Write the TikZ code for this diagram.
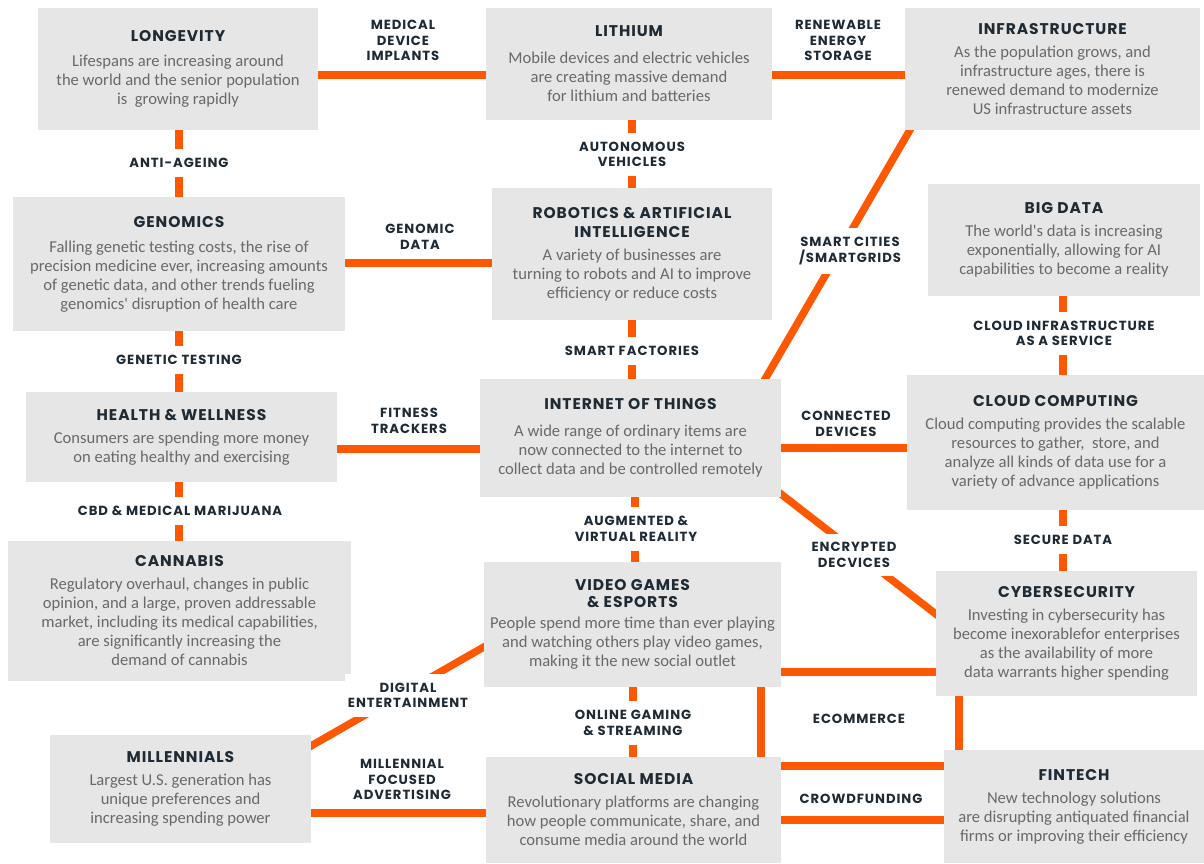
\documentclass[tikz,border=0pt]{standalone}
\usepackage{fontspec}
\newfontfamily\titlefam{Poppins}[LetterSpace=6]
\newfontfamily\lblfam{Poppins}[LetterSpace=7]
\newfontfamily\bodyfam{Carlito}
\usetikzlibrary{backgrounds}
\definecolor{orng}{RGB}{255,88,0}
\definecolor{boxgray}{RGB}{230,230,230}
\definecolor{ink}{RGB}{30,42,52}
\definecolor{bodygray}{RGB}{105,105,105}
\newcommand\ttl{\titlefam\bfseries\fontsize{15.5}{19}\selectfont\color{ink}}
\newcommand\lblfont{\lblfam\bfseries\fontsize{13.2}{15.5}\selectfont}
\newcommand\bdyfont{\bodyfam\fontsize{16.6}{19}\selectfont}
\begin{document}
\begin{tikzpicture}[x=1pt,y=-1pt,
  box/.style={fill=boxgray, inner sep=0pt, align=center, text=bodygray, font=\bdyfont},
  conn/.style={draw=orng, line width=7.5pt},
  diag/.style={conn, shorten <=-5pt, shorten >=-5pt},
  lbl/.style={font=\lblfont, text=ink, align=center, inner sep=0pt},
  brk/.style={lbl, fill=white, inner xsep=3pt, inner ysep=9pt}]
\useasboundingbox (0,0) rectangle (1204,863);
% boxes
\node[box, minimum width=280pt, minimum height=122pt] (longevity) at (178,69)
  {{\ttl LONGEVITY}\\[6pt]Lifespans are increasing around\\the world and the senior population\\is \ growing rapidly};
\node[box, minimum width=286pt, minimum height=112pt] (lithium) at (629,64)
  {{\ttl LITHIUM}\\[8pt]Mobile devices and electric vehicles\\are creating massive demand\\for lithium and batteries};
\node[box, minimum width=295pt, minimum height=122pt] (infra) at (1052.5,69)
  {{\ttl INFRASTRUCTURE}\\[4pt]As the population grows, and\\infrastructure ages, there is\\renewed demand to modernize\\US infrastructure assets};
\node[box, minimum width=272pt, minimum height=112pt] (bigdata) at (1064,240)
  {{\ttl BIG DATA}\\[4pt]The world's data is increasing\\exponentially, allowing for AI\\capabilities to become a reality};
\node[box, minimum width=332pt, minimum height=134pt] (genomics) at (179,264)
  {{\ttl GENOMICS}\\[6pt]Falling genetic testing costs, the rise of\\precision medicine ever, increasing amounts\\of genetic data, and other trends fueling\\genomics' disruption of health care};
\node[box, minimum width=280pt, minimum height=132pt] (robotics) at (632,254)
  {{\ttl ROBOTICS \& ARTIFICIAL}\\{\ttl INTELLIGENCE}\\[4pt]A variety of businesses are\\turning to robots and AI to improve\\efficiency or reduce costs};
\node[box, minimum width=311pt, minimum height=90pt] (health) at (181.5,437)
  {{\ttl HEALTH \& WELLNESS}\\[4pt]Consumers are spending more money\\on eating healthy and exercising};
\node[box, minimum width=301pt, minimum height=118pt] (iot) at (630.5,438)
  {{\ttl INTERNET OF THINGS}\\[8pt]A wide range of ordinary items are\\now connected to the internet to\\collect data and be controlled remotely};
\node[box, minimum width=297pt, minimum height=135pt] (cloud) at (1055.5,442.5)
  {{\ttl CLOUD COMPUTING}\\[4pt]Cloud computing provides the scalable\\resources to gather, \ store, and\\analyze all kinds of data use for a\\variety of advance applications};
\node[box, minimum width=343pt, minimum height=140pt] (cannabis) at (179.5,611)
  {{\ttl CANNABIS}\\[4pt]Regulatory overhaul, changes in public\\opinion, and a large, proven addressable\\market, including its medical capabilities,\\are significantly increasing the\\demand of cannabis};
\node[box, minimum width=297pt, minimum height=125pt] (video) at (632.5,624.5)
  {{\ttl VIDEO GAMES}\\[-2pt]{\ttl \& ESPORTS}\\[2pt]People spend more time than ever playing\\and watching others play video games,\\making it the new social outlet};
\node[box, minimum width=261pt, minimum height=125pt] (cyber) at (1066.5,633.5)
  {{\ttl CYBERSECURITY}\\[4pt]Investing in cybersecurity has\\become inexorablefor enterprises\\as the availability of more\\data warrants higher spending};
\node[box, minimum width=261pt, minimum height=108pt] (millennials) at (180.5,789)
  {{\ttl MILLENNIALS}\\[4pt]Largest U.S. generation has\\unique preferences and\\increasing spending power};
\node[box, minimum width=295pt, minimum height=106pt] (social) at (633.5,810)
  {{\ttl SOCIAL MEDIA}\\[4pt]Revolutionary platforms are changing\\how people communicate, share, and\\consume media around the world};
\node[box, minimum width=260pt, minimum height=113pt] (fintech) at (1074,806.5)
  {{\ttl FINTECH}\\[4pt]New technology solutions\\are disrupting antiquated financial\\firms or improving their efficiency};
% helper coordinates
\coordinate (v179) at (179,0);
\coordinate (v632) at (632,0);
\coordinate (v633) at (633,0);
\coordinate (v635) at (635,0);
\coordinate (v761) at (761,0);
\coordinate (v959) at (959,0);
\coordinate (v1063) at (1063,0);
\coordinate (h75) at (0,75);
\coordinate (h263) at (0,263);
\coordinate (h448) at (0,448);
\coordinate (h449) at (0,449);
\coordinate (h672) at (0,672);
\coordinate (h766) at (0,766);
\coordinate (h813) at (0,813);
\coordinate (h820) at (0,820);
\begin{scope}[on background layer]
\draw[conn] (longevity.east |- h75) -- (lithium.west |- h75);
\draw[conn] (lithium.east |- h75) -- (infra.west |- h75);
\draw[conn] (longevity.south -| v179) -- (genomics.north -| v179);
\draw[conn] (lithium.south -| v632) -- (robotics.north -| v632);
\draw[conn] (genomics.east |- h263) -- (robotics.west |- h263);
\draw[conn] (genomics.south -| v179) -- (health.north -| v179);
\draw[conn] (robotics.south -| v632) -- (iot.north -| v632);
\draw[conn] (bigdata.south -| v1063) -- (cloud.north -| v1063);
\draw[conn] (health.east |- h449) -- (iot.west |- h449);
\draw[conn] (iot.east |- h448) -- (cloud.west |- h448);
\draw[conn] (health.south -| v179) -- (cannabis.north -| v179);
\draw[conn] (iot.south -| v635) -- (video.north -| v635);
\draw[conn] (cloud.south -| v1063) -- (cyber.north -| v1063);
\draw[conn] (video.south -| v633) -- (social.north -| v633);
\draw[conn] (video.south -| v761) -- (social.north -| v761);
\draw[conn] (video.east |- h672) -- (cyber.west |- h672);
\draw[conn] (cyber.south -| v959) -- (fintech.north -| v959);
\draw[conn] (social.east |- h766) -- (fintech.west |- h766);
\draw[conn] (social.east |- h820) -- (fintech.west |- h820);
\draw[conn] (millennials.east |- h813) -- (social.west |- h813);
\draw[diag] ([xshift=5pt]infra.south west) -- ([xshift=-16pt]iot.north east);
\draw[diag] ([yshift=3pt]iot.south east) -- ([yshift=19.5pt]cyber.west);
\draw[diag] ([yshift=-22.5pt]video.west) -- ([yshift=-11pt]millennials.north east);
\end{scope}
% labels on connectors (break the line)
\node[brk] (l-anti) at (179,163) {ANTI-AGEING};
\node[brk] (l-auto) at (632,154.5) {AUTONOMOUS\\VEHICLES};
\node[brk] (l-gent) at (179,360) {GENETIC TESTING};
\node[brk] (l-fact) at (632,351) {SMART FACTORIES};
\node[brk] (l-city) at (850,251) {SMART CITIES\\/SMARTGRIDS};
\node[brk] (l-clinf) at (1064,333.5) {CLOUD INFRASTRUCTURE\\AS A SERVICE};
\node[brk] (l-cbd) at (180,511) {CBD \& MEDICAL MARIJUANA};
\node[brk] (l-avr) at (636,529) {AUGMENTED \&\\VIRTUAL REALITY};
\node[brk] (l-enc) at (854,555) {ENCRYPTED\\DECVICES};
\node[brk] (l-sec) at (1063,540) {SECURE DATA};
\node[brk] (l-dig) at (408,695.5) {DIGITAL\\ENTERTAINMENT};
\node[brk] (l-ogs) at (633,723) {ONLINE GAMING\\\& STREAMING};
% labels beside connectors
\node[lbl] (l-med) at (403,40.5) {MEDICAL\\DEVICE\\IMPLANTS};
\node[lbl] (l-ren) at (838,40.5) {RENEWABLE\\ENERGY\\STORAGE};
\node[lbl] (l-gdat) at (420,237) {GENOMIC\\DATA};
\node[lbl] (l-fit) at (409,421) {FITNESS\\TRACKERS};
\node[lbl] (l-con) at (846,424) {CONNECTED\\DEVICES};
\node[lbl] (l-ecom) at (859,719) {ECOMMERCE};
\node[lbl] (l-mfa) at (402,779.5) {MILLENNIAL\\FOCUSED\\ADVERTISING};
\node[lbl] (l-crowd) at (861,799) {CROWDFUNDING};
\end{tikzpicture}
\end{document}
